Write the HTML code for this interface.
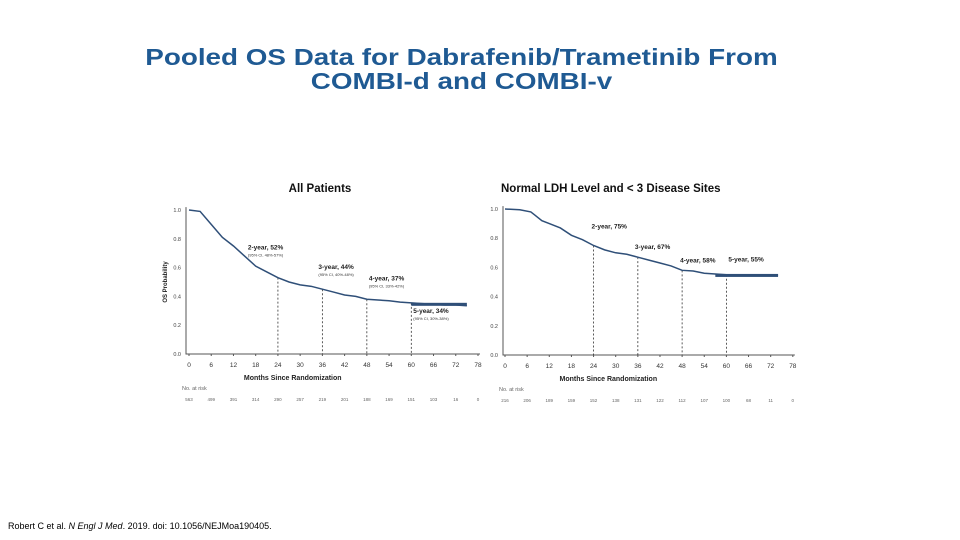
<!DOCTYPE html>
<html><head><meta charset="utf-8">
<style>
body{margin:0;width:960px;height:540px;background:#fff;overflow:hidden;font-family:"Liberation Sans",sans-serif;position:relative}
#title{position:absolute;left:0;width:923px;top:45px;text-align:center;color:#1f5a93;font-weight:bold;font-size:23px;line-height:24px;transform:scaleX(1.21);transform-origin:461.5px 0}
#ref{position:absolute;left:8px;top:521px;font-size:9px;color:#000}
svg{position:absolute;left:0;top:0}
</style></head><body>
<div id="title">Pooled OS Data for Dabrafenib/Trametinib From<br>COMBI-d and COMBI-v</div>
<div id="ref">Robert C et al. <i>N Engl J Med</i>. 2019. doi: 10.1056/NEJMoa190405.</div>
<svg id="svg" width="960" height="540"></svg>
<script>
const xTicks=[0,6,12,18,24,30,36,42,48,54,60,66,72,78];
const yTicks=[0,0.2,0.4,0.6,0.8,1.0];
const leftMonths=[0,3,6,9,12,15,18,21,24,27,30,33,36,39,42,45,48,51,54,57,60,63,66,69,72,75];
const leftOS=[1.0,0.99,0.9,0.81,0.75,0.68,0.61,0.57,0.53,0.5,0.48,0.47,0.45,0.43,0.41,0.4,0.38,0.375,0.37,0.36,0.355,0.35,0.345,0.34,0.34,0.335];
const rightMonths=[0,4,7,8,10,12,15,18,21,24,27,30,33,36,39,42,45,48,51,54,57,60,63,66,72,74];
const rightOS=[1.0,0.995,0.98,0.96,0.92,0.9,0.87,0.82,0.79,0.75,0.72,0.7,0.69,0.67,0.65,0.63,0.61,0.58,0.575,0.56,0.555,0.55,0.545,0.545,0.545,0.545];
const leftAtRisk=["563","499","391","314","290","257","219","201","188","169","151","103","16","0"];
const rightAtRisk=["216","206","189","159","152","138","131","122","112","107","100","68","11","0"];
const leftMarks=[[24,0.53,"2-year, 52%","(95% CI, 48%-57%)",-30,-28],[36,0.45,"3-year, 44%","(95% CI, 40%-48%)",-4,-20],[48,0.38,"4-year, 37%","(95% CI, 33%-42%)",2,-19],[60,0.355,"5-year, 34%","(95% CI, 30%-38%)",2,10]];
const rightMarks=[[24,0.75,"2-year, 75%","",-2,-17],[36,0.67,"3-year, 67%","",-3,-8],[48,0.58,"4-year, 58%","",-2,-8],[60,0.55,"5-year, 55%","",2,-13]];
const NS="http://www.w3.org/2000/svg";
const svg=document.getElementById('svg');
function el(t,a,txt){const e=document.createElementNS(NS,t);for(const k in a)e.setAttribute(k,a[k]);if(txt!==undefined)e.textContent=txt;svg.appendChild(e);return e;}
function panel(cfg){
 const sx=m=>cfg.x0+m*cfg.dx, sy=v=>cfg.yb-v*(cfg.yb-cfg.yt);
 let t=el('text',{x:cfg.tx,y:192,'font-size':11.5,'font-weight':'bold',fill:'#111','text-anchor':cfg.anchor},cfg.title);
 
 
 let ax=el('path',{d:`M${cfg.ax},${sy(1.02)}V${cfg.yb}H${sx(78)+2}`,stroke:'#555','stroke-width':1,fill:'none'});
 
 
 yTicks.forEach(v=>{const tl=el('text',{x:cfg.ax-5,y:sy(v)+2,'font-size':5.5,fill:'#444','text-anchor':'end'},v.toFixed(1));
  
  });
 xTicks.forEach((m,i)=>{el('line',{x1:sx(m),x2:sx(m),y1:cfg.yb,y2:cfg.yb+2,stroke:'#555'});
  const tl=el('text',{x:sx(m),y:cfg.yb+13,'font-size':6.5,fill:'#333','text-anchor':'middle'},m);
  
  
  const r=el('text',{x:sx(m),y:cfg.yb+47,'font-size':4.5,fill:'#666','text-anchor':'middle'},cfg.risk[i]);
  
  });
 let xt=el('text',{x:sx(28),y:cfg.yb+26,'font-size':7,'font-weight':'bold',fill:'#222','text-anchor':'middle'},'Months Since Randomization');
 
 
 let nr=el('text',{x:cfg.ax-4,y:cfg.yb+36,'font-size':5.5,fill:'#666'},'No. at risk');
 
 
 if(cfg.ylab){let yl=el('text',{x:0,y:0,'font-size':6,'font-weight':'bold',fill:'#222','text-anchor':'middle',transform:`translate(${cfg.ax-19},${sy(0.5)}) rotate(-90)`},'OS Probability');
  
  }
 cfg.marks.forEach(mk=>{const [m,v,l1,l2,ox,oy]=mk;
  const d=el('line',{x1:sx(m),x2:sx(m),y1:sy(v),y2:cfg.yb,stroke:'#333','stroke-dasharray':'2,2','stroke-width':0.8});
  
  
  const a=el('text',{x:sx(m)+ox,y:sy(v)+oy,'font-size':6.5,'font-weight':'bold',fill:'#222'},l1);
  
  
  if(l2){const b=el('text',{x:sx(m)+ox,y:sy(v)+oy+7,'font-size':4,fill:'#333'},l2);
   
   }});
 let d='';cfg.m.forEach((m,i)=>{d+=(i?'L':'M')+sx(m)+','+sy(cfg.v[i]);});
 let p=el('path',{d:d,stroke:'#2f4f78','stroke-width':1.5,fill:'none'});
 
 
 const n=cfg.m.length;
 let c=el('rect',{x:sx(cfg.m[n-6]),y:sy(cfg.v[n-4])-1.5,width:sx(cfg.m[n-1])-sx(cfg.m[n-6]),height:3,fill:'#2f4f78'});
 
 
}
panel({id:'all-patients',title:'All Patients',tx:320,anchor:'middle',ax:186,x0:189,dx:3.705,yt:210,yb:354,m:leftMonths,v:leftOS,risk:leftAtRisk,marks:leftMarks,ylab:true});
panel({id:'normal-ldh',title:'Normal LDH Level and < 3 Disease Sites',tx:501,anchor:'start',ax:503,x0:505,dx:3.69,yt:209,yb:355,m:rightMonths,v:rightOS,risk:rightAtRisk,marks:rightMarks,ylab:false});
</script>
</body></html>
